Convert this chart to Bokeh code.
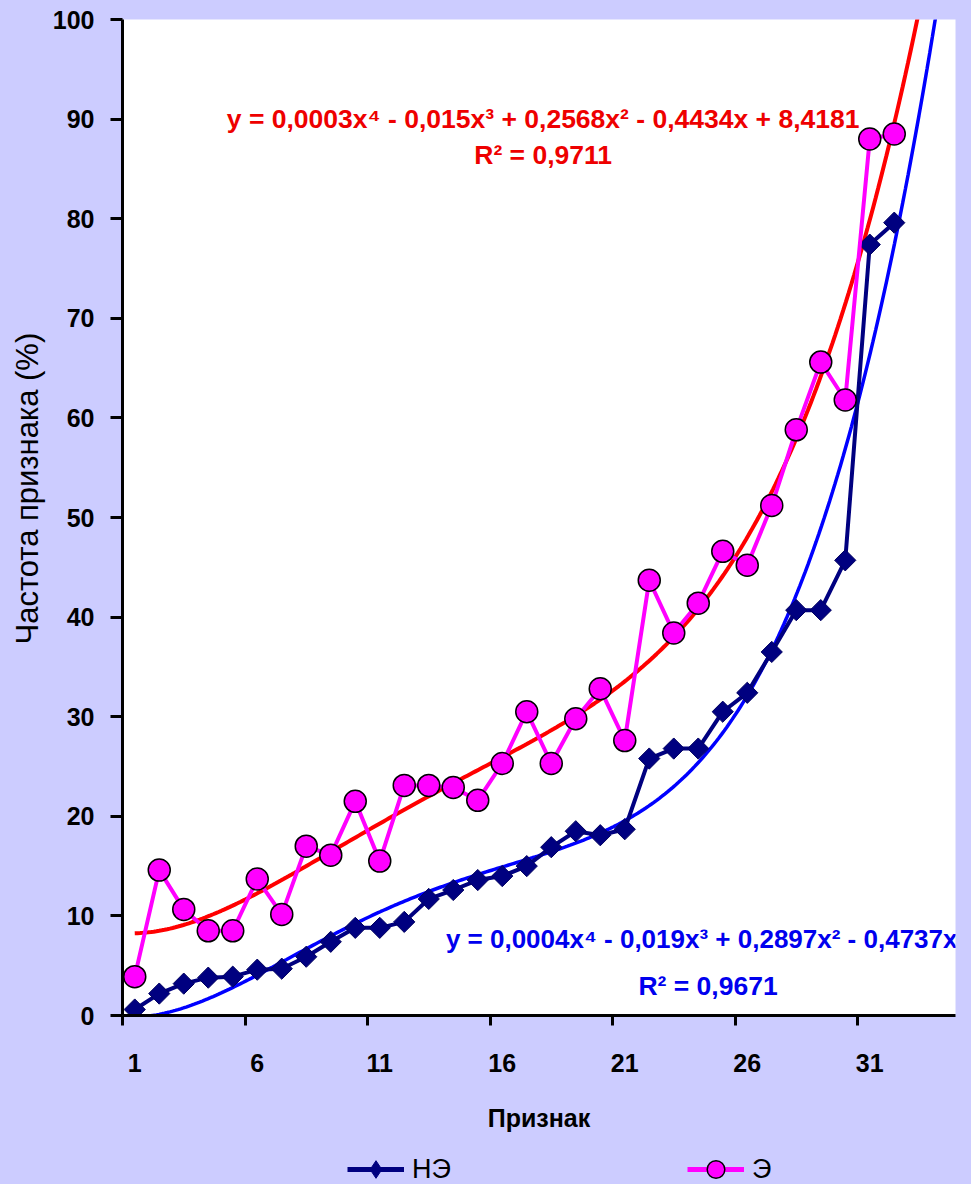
import numpy as np
from bokeh.plotting import figure
from bokeh.layouts import column
from bokeh.models import (Range1d, FixedTicker, Label, Legend, LegendItem, ColumnDataSource, Title)
from bokeh.embed import file_html
from bokeh.resources import INLINE

# ---- data ----
priznak = list(range(1, 33))
ne_values = [0.6, 2.2, 3.2, 3.8, 3.9, 4.6, 4.7, 5.9, 7.4, 8.8, 8.8, 9.4, 11.7, 12.6, 13.6, 14.0,
             15.0, 16.9, 18.5, 18.1, 18.7, 25.8, 26.8, 26.8, 30.5, 32.4, 36.5, 40.7, 40.7, 45.7,
             77.4, 79.6]
e_values = [3.9, 14.6, 10.65, 8.5, 8.5, 13.7, 10.15, 17.0, 16.1, 21.5, 15.5, 23.1, 23.1, 22.9,
            21.6, 25.3, 30.5, 25.3, 29.8, 32.8, 27.6, 43.7, 38.4, 41.4, 46.6, 45.2, 51.2, 58.8,
            65.6, 61.8, 88.0, 88.5]
series_names = ["НЭ", "Э"]
x_tick_labels = ["1", "6", "11", "16", "21", "26", "31"]
eq_e = "y = 0,0003x\u2074 - 0,015x\u00b3 + 0,2568x\u00b2 - 0,4434x + 8,4181"
r2_e = "R\u00b2 = 0,9711"
eq_ne = "y = 0,0004x\u2074 - 0,019x\u00b3 + 0,2897x\u00b2 - 0,4737x"
r2_ne = "R\u00b2 = 0,9671"

# ---- polynomial trendlines (degree 4, forecast forward 2 periods) ----
xs = np.array(priznak, dtype=float)
xt = np.linspace(1, 34, 300)
coef_e = np.polyfit(xs, np.array(e_values), 4)
trend_e = np.polyval(coef_e, xt)
A = np.vstack([xs**4, xs**3, xs**2, xs]).T          # intercept fixed at 0
c_ne, *_ = np.linalg.lstsq(A, np.array(ne_values), rcond=None)
trend_ne = c_ne[0]*xt**4 + c_ne[1]*xt**3 + c_ne[2]*xt**2 + c_ne[3]*xt

BG = "#CCCCFF"
NAVY, MAG = "#000080", "#FF00FF"

p = figure(frame_width=833, frame_height=996, output_backend="svg", toolbar_location=None,
           x_range=Range1d(0.5, 34.5), y_range=Range1d(0, 100),
           min_border_left=122, min_border_right=16, min_border_top=19, min_border_bottom=125,
           background_fill_color="white", border_fill_color=BG, outline_line_color=None,
           styles={"background-color": BG})
p.grid.visible = False

# axes
p.yaxis.ticker = FixedTicker(ticks=list(range(0, 101, 10)))
p.yaxis.axis_line_width = 3
p.yaxis.major_tick_line_width = 3
p.yaxis.major_tick_out = 12
p.yaxis.major_tick_in = 0
p.yaxis.minor_tick_line_color = None
p.yaxis.major_label_text_font = "Liberation Sans"
p.yaxis.major_label_text_font_style = "bold"
p.yaxis.major_label_text_font_size = "25px"
p.yaxis.major_label_text_color = "black"
p.yaxis.major_label_standoff = 16

tick_pos = [int(t) for t in x_tick_labels]
p.xaxis.ticker = FixedTicker(ticks=tick_pos, minor_ticks=[0.5 + 5*i for i in range(7)])
p.xaxis.major_label_overrides = {t: s for t, s in zip(tick_pos, x_tick_labels)}
p.xaxis.axis_line_width = 3
p.xaxis.major_tick_out = 0
p.xaxis.major_tick_in = 0
p.xaxis.minor_tick_out = 10
p.xaxis.minor_tick_in = 0
p.xaxis.minor_tick_line_width = 3
p.xaxis.minor_tick_line_color = "black"
p.xaxis.major_label_text_font = "Liberation Sans"
p.xaxis.major_label_text_font_style = "bold"
p.xaxis.major_label_text_font_size = "25px"
p.xaxis.major_label_text_color = "black"
p.xaxis.major_label_standoff = 28
p.xaxis.axis_label = "Признак"
p.xaxis.axis_label_text_font = "Liberation Sans"
p.xaxis.axis_label_text_font_style = "bold"
p.xaxis.axis_label_text_font_size = "25px"
p.xaxis.axis_label_text_color = "black"
p.xaxis.axis_label_standoff = 29

# y-axis title as a side-panel title, positioned like the reference
p.add_layout(Title(text="Частота признака (%)", align="left", offset=371,
                   text_font="Liberation Sans", text_font_style="normal",
                   text_font_size="31px", text_color="black", standoff=10), "left")

# trendlines
p.line(xt, trend_e, line_color="#FF0000", line_width=4)
p.line(xt, trend_ne, line_color="#0000FF", line_width=3.5)

# series
src = ColumnDataSource(dict(x=priznak, ne=ne_values, e=e_values))
p.line("x", "ne", source=src, line_color=NAVY, line_width=4)
p.scatter("x", "ne", source=src, marker="square", angle=np.pi/4, size=15,
          fill_color=NAVY, line_color="#000060", line_width=1)
p.line("x", "e", source=src, line_color=MAG, line_width=4)
p.scatter("x", "e", source=src, marker="circle", size=22,
          fill_color=MAG, line_color="black", line_width=1.5)

# trendline equations
for txt, xx, yy, col, fs in [(eq_e, 17.67, 90.0, "#EE0000", "26.5px"),
                             (r2_e, 17.67, 86.4, "#EE0000", "26.5px"),
                             (eq_ne, 24.14, 7.7, "#0000EE", "26px"),
                             (r2_ne, 24.4, 3.0, "#0000EE", "26.5px")]:
    p.add_layout(Label(x=xx, y=yy, text=txt, text_align="center", text_baseline="middle",
                       text_font="Liberation Sans", text_font_style="bold",
                       text_font_size=fs, text_color=col))

# ---- legend strip below the chart ----
q = figure(width=971, height=44, output_backend="svg", toolbar_location=None,
           x_range=Range1d(-10, -9), y_range=Range1d(-10, -9),
           x_axis_type=None, y_axis_type=None, min_border=0,
           background_fill_color=BG, border_fill_color=BG, outline_line_color=None,
           styles={"background-color": BG})
q.grid.visible = False
l1 = q.line("x", "ne", source=src, line_color=NAVY, line_width=5)
s1 = q.scatter("x", "ne", source=src, marker="diamond", size=15,
               fill_color=NAVY, line_color=NAVY, line_width=1)
l2 = q.line("x", "e", source=src, line_color=MAG, line_width=5)
s2 = q.scatter("x", "e", source=src, marker="circle", size=22,
               fill_color=MAG, line_color="black", line_width=1.5)
legend = Legend(items=[LegendItem(label=series_names[0], renderers=[l1, s1]),
                       LegendItem(label=series_names[1], renderers=[l2, s2])],
                orientation="horizontal", location=(225, -7),
                background_fill_alpha=0, border_line_color=None,
                label_text_font="Liberation Sans", label_text_font_size="27px",
                label_text_color="black",
                glyph_width=57, glyph_height=44, spacing=236, label_standoff=8,
                padding=0, margin=0)
q.add_layout(legend, "center")

open("out.html", "w").write(file_html(column(p, q, spacing=0, styles={"background-color": BG}),
                                      INLINE))
